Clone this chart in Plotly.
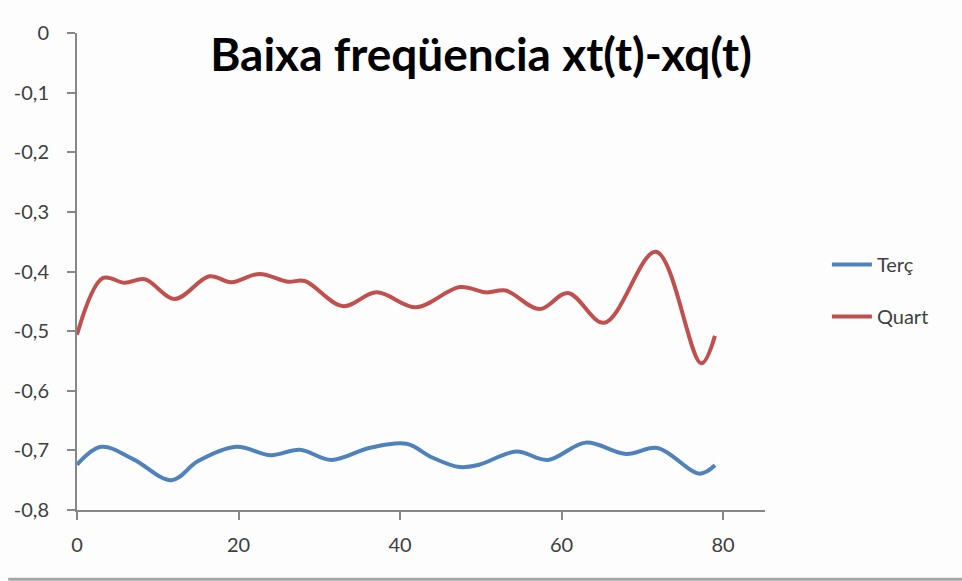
import plotly.graph_objects as go

# Data
t_terc = [0, 3, 7, 11.7, 15, 19.7, 24, 27.6, 31.5, 36.2, 40.8, 44, 47.4, 49.8, 54.4, 58.3, 63, 68, 71.9, 77.1, 79]
terc = [-0.724, -0.694, -0.715, -0.750, -0.718, -0.694, -0.708, -0.699, -0.716, -0.696, -0.689, -0.712, -0.728, -0.724, -0.702, -0.716, -0.687, -0.706, -0.696, -0.739, -0.725]

t_quart = [0, 3.2, 5.9, 8.4, 12.1, 16.4, 19.1, 22.6, 26.1, 28.2, 32.9, 37.1, 42, 47.4, 50.7, 53.1, 57.3, 60.8, 65.3, 71.7, 77.3, 79]
quart = [-0.506, -0.411, -0.419, -0.413, -0.446, -0.408, -0.418, -0.404, -0.417, -0.416, -0.458, -0.435, -0.460, -0.426, -0.435, -0.432, -0.463, -0.436, -0.486, -0.367, -0.554, -0.508]

series_names = ["Terç", "Quart"]
colors = ["#4F81BD", "#C0504D"]

y_ticks = [0, -0.1, -0.2, -0.3, -0.4, -0.5, -0.6, -0.7, -0.8]
y_ticktext = ["0", "-0,1", "-0,2", "-0,3", "-0,4", "-0,5", "-0,6", "-0,7", "-0,8"]
x_ticks = [0, 20, 40, 60, 80]

title_text = "Baixa freqüencia xt(t)-xq(t)"

fig = go.Figure()
fig.add_trace(go.Scatter(x=t_terc, y=terc, mode="lines", name=series_names[0], legendgroup="a",
                         line=dict(color=colors[0], width=4, shape="spline", smoothing=1.0)))
fig.add_trace(go.Scatter(x=t_quart, y=quart, mode="lines", name=series_names[1], legendgroup="b",
                         line=dict(color=colors[1], width=4, shape="spline", smoothing=1.0)))

axis_font = dict(family="Lato, 'Open Sans', sans-serif", size=20, color="#404040")

fig.update_layout(
    width=962, height=581,
    margin=dict(l=77, r=197, t=33, b=71),
    paper_bgcolor="#FDFDFD", plot_bgcolor="#FDFDFD",
    title=dict(text="<b>" + title_text + "</b>", x=0.5, xref="container", xanchor="center",
               y=0.905, yref="container", yanchor="middle",
               font=dict(family="Lato, sans-serif", size=46, color="#000000")),
    showlegend=True,
    legend=dict(x=1.09, xanchor="left", y=0.46, yanchor="middle",
                font=dict(family="Lato, 'Open Sans', sans-serif", size=20, color="#404040"),
                tracegroupgap=23, itemwidth=40, bgcolor="rgba(0,0,0,0)"),
    xaxis=dict(range=[0, 85.2], tickvals=x_ticks, ticktext=[str(v) for v in x_ticks],
               showgrid=False, zeroline=False, showline=True, linecolor="#878787", linewidth=2,
               ticks="outside", ticklen=8, tickcolor="#878787", tickwidth=2,
               tickfont=axis_font, ticklabelstandoff=8),
    yaxis=dict(range=[-0.8, 0], tickvals=y_ticks, ticktext=y_ticktext,
               showgrid=False, zeroline=False, showline=True, linecolor="#878787", linewidth=2,
               ticks="outside", ticklen=8, tickcolor="#878787", tickwidth=2,
               tickfont=axis_font, ticklabelstandoff=14),
    shapes=[dict(type="line", xref="paper", yref="paper", x0=-0.1, x1=1.3,
                 y0=-0.145, y1=-0.145, line=dict(color="#A6A6A6", width=3))],
)

fig.write_html("out.html")
